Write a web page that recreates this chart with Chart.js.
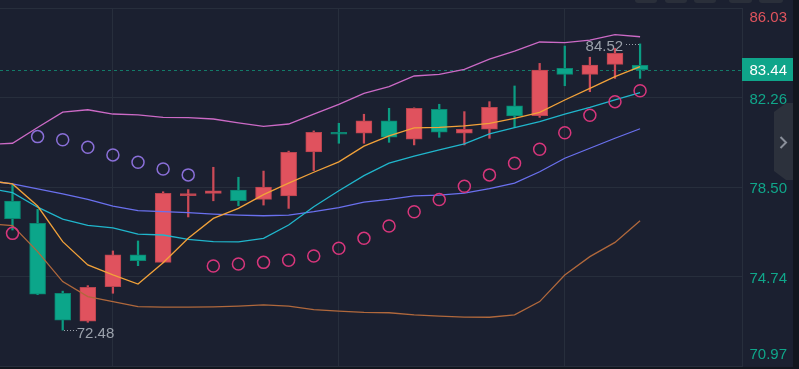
<!DOCTYPE html>
<html lang="en">
<head>
  <meta charset="utf-8">
  <title>candles | Chart.js</title>
  <script src="https://cdn.jsdelivr.net/npm/chart.js@4.4.1/dist/chart.umd.min.js"></script>
  <style>
    html, body { margin: 0; padding: 0; background: #1b2030; }
    .wrapper { width: 799px; height: 369px; }
  </style>
</head>
<body>
  <div class="wrapper"><canvas id="chart-0"></canvas></div>

  <script>
    // one entry per candle
    let opens  = [77.91, 76.97, 74.03, 72.86, 74.31, 75.65, 75.33, 78.14, 78.23, 78.37, 77.98, 78.13, 79.98,
                  80.74, 80.76, 81.28, 80.51, 81.77, 80.76, 80.93, 81.91, 81.50, 83.49, 83.24, 83.66, 83.62];
    let highs  = [78.58, 77.56, 74.12, 74.35, 75.81, 76.23, 78.30, 78.39, 79.33, 78.91, 79.17, 80.01, 80.86,
                  81.18, 81.56, 81.81, 81.83, 81.98, 81.67, 82.09, 82.75, 83.70, 84.43, 83.96, 84.33, 84.52];
    let lows   = [76.69, 73.97, 72.48, 72.81, 74.03, 75.19, 75.31, 77.24, 77.92, 77.71, 77.74, 77.60, 79.19,
                  80.34, 80.34, 80.38, 80.27, 80.59, 80.27, 80.55, 81.01, 81.43, 82.76, 82.51, 83.07, 83.07];
    let closes = [77.17, 73.99, 72.90, 74.28, 75.65, 75.40, 78.23, 78.16, 78.34, 77.92, 78.50, 79.96, 80.80,
                  80.72, 81.28, 80.60, 81.81, 80.81, 80.93, 81.85, 81.49, 83.42, 83.24, 83.63, 84.12, 83.44];

    // indicator lines, the first value is the candle just left of the window
    let bollUpper = [80.28, 80.34, 81.00, 81.65, 81.75, 81.57, 81.53, 81.43, 81.42, 81.36, 81.20, 81.05, 81.15, 81.57,
                     81.98, 82.44, 82.72, 83.17, 83.24, 83.45, 83.88, 84.22, 84.60, 84.57, 84.68, 84.91, 84.82];
    let bollMid   = [78.77, 78.63, 78.42, 78.21, 77.98, 77.70, 77.51, 77.46, 77.42, 77.36, 77.32, 77.29, 77.32, 77.46,
                     77.63, 77.86, 77.98, 78.13, 78.16, 78.24, 78.43, 78.66, 79.14, 79.71, 80.13, 80.55, 80.95];
    let bollLower = [76.96, 76.88, 75.78, 74.52, 73.89, 73.68, 73.47, 73.45, 73.45, 73.46, 73.49, 73.54, 73.49, 73.34,
                     73.28, 73.23, 73.21, 73.12, 73.07, 73.03, 73.02, 73.12, 73.68, 74.80, 75.57, 76.17, 77.08];
    let ma5       = [78.77, 78.63, 77.70, 76.20, 75.22, 74.80, 74.42, 75.31, 76.34, 77.18, 77.60, 78.18, 78.66, 79.12,
                     79.56, 80.22, 80.65, 80.99, 81.01, 81.07, 81.18, 81.39, 81.64, 82.16, 82.65, 83.14, 83.56];
    let ma10      = [78.46, 78.26, 77.65, 77.15, 76.89, 76.78, 76.52, 76.48, 76.30, 76.20, 76.19, 76.34, 76.90, 77.67,
                     78.34, 78.98, 79.50, 79.80, 80.06, 80.31, 80.73, 81.00, 81.25, 81.57, 81.85, 82.16, 82.47];

    // parabolic SAR, one per candle
    let sarAbove = [null, 80.62, 80.49, 80.17, 79.85, 79.54, 79.26, 79.01, null, null, null, null, null,
                    null, null, null, null, null, null, null, null, null, null, null, null, null];
    let sarBelow = [76.55, null, null, null, null, null, null, null, 75.18, 75.26, 75.33, 75.42, 75.60,
                    75.92, 76.34, 76.86, 77.46, 77.97, 78.53, 79.01, 79.50, 80.09, 80.78, 81.52, 82.09, 82.55];

    let yTicks = [70.97, 74.74, 78.50, 82.26, 86.03];
    let xGridAt = [4, 13, 22];
    let lastPrice = closes[closes.length - 1];

    const UP = '#e0525e', UP_EDGE = '#b8444f', DOWN = '#0ca68a', DOWN_EDGE = '#0a8570';
    const GRID = '#272e3c';
    const FONT = '15px "Liberation Sans", Arial, sans-serif';

    let isUp = opens.map((o, i) => closes[i] >= o);

    function series(values, shift) {
      return values.map((v, i) => ({x: i + shift, y: v}));
    }

    function lineSet(values, color, order) {
      return {
        type: 'line', data: series(values, -1), borderColor: color, borderWidth: 1.3,
        pointRadius: 0, tension: 0, order: order
      };
    }

    function sarSet(values, color) {
      return {
        type: 'line', data: series(values, 0), showLine: false, order: 0,
        pointRadius: 6, pointBorderWidth: 1.5, pointBorderColor: color,
        pointBackgroundColor: 'rgba(0,0,0,0)'
      };
    }

    const decor = {
      id: 'decor',
      beforeDraw(chart) {
        let ctx = chart.ctx;
        ctx.save();
        ctx.fillStyle = '#1b2030';
        ctx.fillRect(0, 0, chart.width, chart.height);
        ctx.restore();
      },
      beforeDatasetsDraw(chart) {
        let ctx = chart.ctx, area = chart.chartArea;
        let y = Math.round(chart.scales.y.getPixelForValue(lastPrice)) + 0.5;
        ctx.save();
        ctx.strokeStyle = '#137a68';
        ctx.lineWidth = 1;
        ctx.setLineDash([3, 3]);
        ctx.beginPath();
        ctx.moveTo(area.left, y);
        ctx.lineTo(area.right, y);
        ctx.stroke();
        ctx.restore();
      },
      afterDraw(chart) {
        let ctx = chart.ctx, area = chart.chartArea;
        let xs = chart.scales.x, ys = chart.scales.y;
        ctx.save();

        // price axis labels
        ctx.font = FONT;
        ctx.textAlign = 'right';
        ctx.textBaseline = 'middle';
        yTicks.forEach(function(v) {
          let y = ys.getPixelForValue(v) + 2;
          y = Math.min(Math.max(y, area.top + 10), area.bottom - 11);
          ctx.fillStyle = v > lastPrice ? '#e0535d' : '#10a68a';
          ctx.fillText(v.toFixed(2), 787, y);
        });

        // last price tag
        let py = ys.getPixelForValue(lastPrice);
        ctx.fillStyle = '#0fa58a';
        ctx.fillRect(area.right, Math.round(py - 11.5), 52, 23);
        ctx.fillStyle = '#ffffff';
        ctx.fillText(lastPrice.toFixed(2), 787, py + 1);

        // highest high / lowest low marks
        ctx.fillStyle = '#9ba1ab';
        let hi = highs.indexOf(Math.max.apply(null, highs));
        let lo = lows.indexOf(Math.min.apply(null, lows));
        let hx = xs.getPixelForValue(hi), hy = ys.getPixelForValue(highs[hi]);
        for (let d = 1; d < 14; d += 3) ctx.fillRect(Math.round(hx - d - 1), Math.round(hy), 1, 1);
        ctx.textAlign = 'right';
        ctx.fillText(highs[hi].toFixed(2), hx - 17, hy + 3);
        let lx = xs.getPixelForValue(lo), ly = ys.getPixelForValue(lows[lo]);
        for (let d = 1; d < 14; d += 3) ctx.fillRect(Math.round(lx + d), Math.round(ly), 1, 1);
        ctx.textAlign = 'left';
        ctx.fillText(lows[lo].toFixed(2), lx + 14, ly + 4);

        // frame on the right and bottom
        ctx.fillStyle = '#12161e';
        ctx.fillRect(793, 0, 6, chart.height);
        ctx.fillRect(0, 367, chart.width, 2);

        // collapse tab
        ctx.fillStyle = '#2c313c';
        ctx.beginPath();
        ctx.moveTo(793, 103);
        ctx.lineTo(786, 103);
        ctx.lineTo(774, 112);
        ctx.lineTo(774, 171);
        ctx.lineTo(786, 180);
        ctx.lineTo(793, 180);
        ctx.closePath();
        ctx.fill();
        ctx.strokeStyle = '#8a8f9a';
        ctx.lineWidth = 2;
        ctx.beginPath();
        ctx.moveTo(780.5, 137);
        ctx.lineTo(786, 142.5);
        ctx.lineTo(780.5, 148);
        ctx.stroke();

        // toolbar buttons cut by the top edge
        ctx.fillStyle = '#2a2f3a';
        [[635, 22], [665, 22], [694, 22], [729, 23], [759, 24]].forEach(function(b) {
          ctx.beginPath();
          ctx.roundRect(b[0], -8, b[1], 11, 3);
          ctx.fill();
        });
        ctx.restore();
      }
    };

    let chart = new Chart('chart-0', {
      type: 'bar',
      data: {
        datasets: [
          sarSet(sarAbove, '#8a6fd8'),
          sarSet(sarBelow, '#d8367c'),
          lineSet(ma5, '#f2a23a', 1),
          lineSet(ma10, '#20b6cc', 1),
          lineSet(bollUpper, '#cc6ac6', 1),
          lineSet(bollMid, '#6a70ee', 1),
          lineSet(bollLower, '#b0683c', 1),
          {
            label: 'body',
            data: opens.map((o, i) => ({x: i, y: [o, closes[i]]})),
            backgroundColor: isUp.map(u => u ? UP : DOWN),
            borderColor: isUp.map(u => u ? UP_EDGE : DOWN_EDGE),
            borderWidth: 1,
            borderSkipped: false,
            barThickness: 16,
            minBarLength: 2,
            grouped: false,
            order: 5
          },
          {
            label: 'wick',
            data: lows.map((l, i) => ({x: i, y: [l, highs[i]]})),
            backgroundColor: isUp.map(u => u ? '#cc4a57' : '#0b9c82'),
            borderWidth: 0,
            barThickness: 1.6,
            grouped: false,
            order: 6
          }
        ]
      },
      options: {
        responsive: true,
        maintainAspectRatio: false,
        animation: false,
        events: [],
        layout: { autoPadding: false, padding: { top: 8, bottom: 3, left: 0, right: 0 } },
        plugins: { legend: { display: false }, tooltip: { enabled: false } },
        scales: {
          x: {
            type: 'linear', min: -0.498, max: 29.06, offset: false,
            ticks: { display: false },
            grid: { color: GRID, drawTicks: false, offset: false },
            border: { display: false },
            afterBuildTicks: s => { s.ticks = xGridAt.map(v => ({value: v})); },
            afterFit: s => { s.height = 0; }
          },
          y: {
            position: 'right', min: 70.97, max: 86.03,
            ticks: { display: false },
            grid: { color: GRID, drawTicks: false },
            border: { display: true, color: GRID },
            afterBuildTicks: s => { s.ticks = yTicks.map(v => ({value: v})); },
            afterFit: s => { s.width = 57; }
          }
        }
      },
      plugins: [decor]
    });
  </script>
</body>
</html>
